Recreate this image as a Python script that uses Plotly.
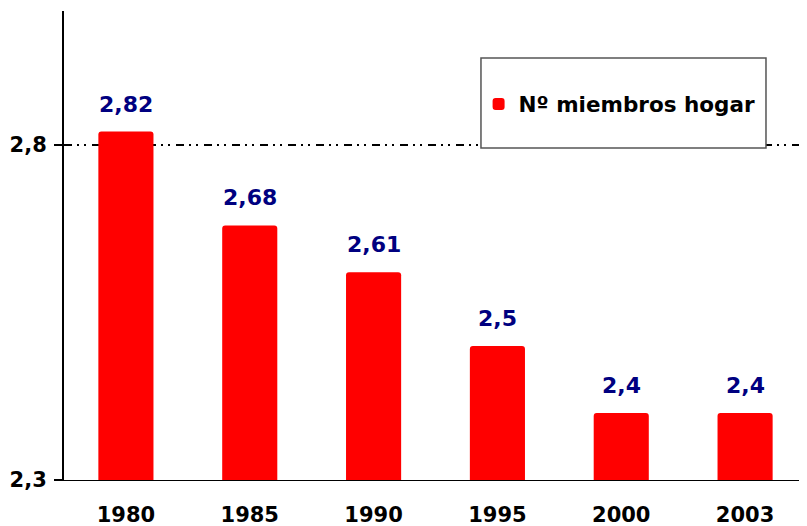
import plotly.graph_objects as go

years = ["1980", "1985", "1990", "1995", "2000", "2003"]
miembros = [2.82, 2.68, 2.61, 2.5, 2.4, 2.4]
value_labels = ["2,82", "2,68", "2,61", "2,5", "2,4", "2,4"]
series_name = "Nº miembros hogar"
y_tickvals = [2.3, 2.8]
y_ticktext = ["2,3", "2,8"]

FONT = "DejaVu Sans"

fig = go.Figure()
fig.add_trace(go.Bar(
    x=years, y=miembros, name=series_name,
    marker=dict(color="#ff0000", line=dict(width=0), cornerradius=3),
    width=0.445, showlegend=True,
))

# annotations on category axis use category index
for i, (y, t) in enumerate(zip(miembros, value_labels)):
    fig.add_annotation(x=i, y=y, text=t, showarrow=False, yanchor="bottom",
                       yshift=13, font=dict(family=FONT, size=22, color="#000080", weight="bold"))

fig.add_shape(type="rect", xref="paper", yref="paper",
              x0=0.5612, x1=0.9448, y0=0.7079, y1=0.8998,
              line=dict(color="#555555", width=1.5), fillcolor="white", layer="above")

fig.update_layout(
    width=799, height=518,
    margin=dict(l=56, r=0, t=3, b=46),
    paper_bgcolor="white", plot_bgcolor="white",
    font=dict(family=FONT, size=21, color="black", weight="bold"),
    showlegend=True,
    legend=dict(x=0.558, y=0.8017, xanchor="left", yanchor="middle",
                bgcolor="rgba(0,0,0,0)", borderwidth=0,
                font=dict(family=FONT, size=21.5, color="black", weight="bold")),
)
fig.update_xaxes(type="category", range=[-0.5, len(years) - 0.5],
                 showline=True, linecolor="black", linewidth=1.2, ticks="",
                 ticklabelstandoff=16, showgrid=False, zeroline=False, automargin=False,
                 tickfont=dict(family=FONT, size=21, weight="bold"))
fig.update_yaxes(range=[2.3, 3.0], tickvals=y_tickvals, ticktext=y_ticktext,
                 showline=True, linecolor="black", linewidth=2,
                 ticks="outside", ticklen=8, tickwidth=1.5, tickcolor="black",
                 ticklabelstandoff=3, automargin=False,
                 showgrid=True, gridcolor="black", gridwidth=1.5,
                 griddash="8px,5px,2px,5px,2px,6px", zeroline=False,
                 tickfont=dict(family=FONT, size=21, weight="bold"))

fig.write_html("out.html")
